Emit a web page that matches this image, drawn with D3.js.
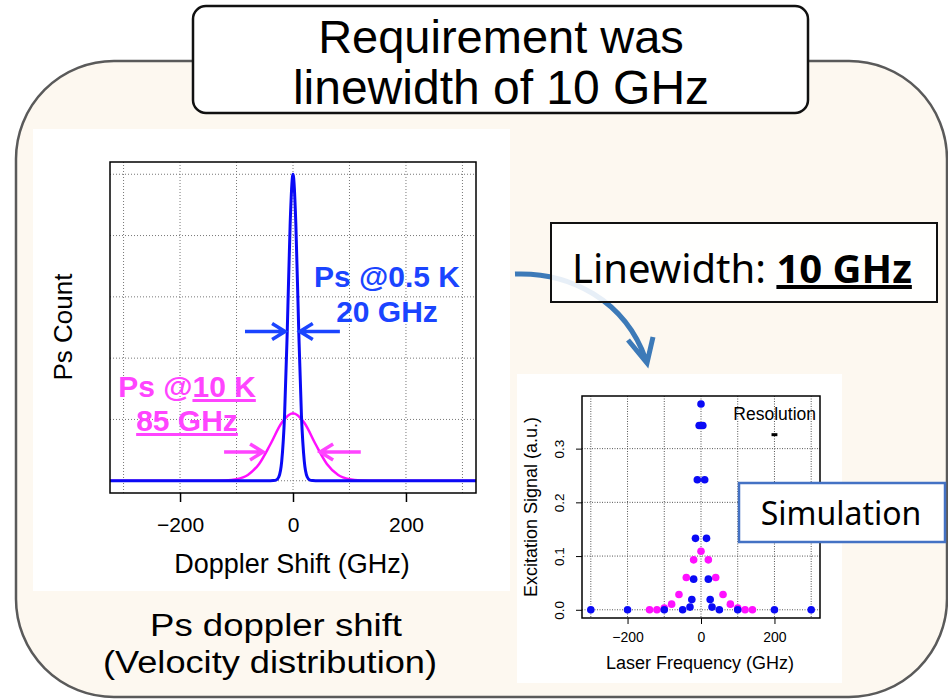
<!DOCTYPE html>
<html lang="en">

<head>
    <script src='https://d3js.org/d3.v7.min.js'></script>
    <style>
        body { margin: 0; background: #fff; }
        text { font-family: "Liberation Sans", Arial, sans-serif; }
        .slide { font-family: "Noto Sans", "Liberation Sans", sans-serif; }
    </style>
</head>

<body>

    <script>

        // ---- left chart: Ps doppler shift curves ----
        const dopplerLim = [-324, 324];
        const countLim = [-0.04, 1.04];
        const gridX = [-300, -200, -100, 0, 100, 200, 300];
        const gridCount = [0, 0.2, 0.4, 0.6, 0.8, 1.0];
        const dopplerTicks = [-200, 0, 200];

        const coldX = [-324, -40, -35, -30, -25, -20, -15, -10, -5, 0, 5, 10, 15, 20, 25, 30, 35, 40, 324];
        const coldY = [0, 0, 0.0005, 0.002, 0.013, 0.063, 0.21, 0.50, 0.84, 1.0, 0.84, 0.50, 0.21, 0.063, 0.013, 0.002, 0.0005, 0, 0];

        const warmX = [-324, -150, -120, -100, -80, -60, -40, -20, 0, 20, 40, 60, 80, 100, 120, 150, 324];
        const warmY = [0, 0, 0.001, 0.005, 0.019, 0.055, 0.119, 0.189, 0.22, 0.189, 0.119, 0.055, 0.019, 0.005, 0.001, 0, 0];

        // FWHM arrows (GHz, count)
        const coldArrows = [[-85, -14], [83, 12]];
        const coldArrowY = 0.487;
        const warmArrows = [[-122, -53], [120, 48]];
        const warmArrowY = 0.094;

        // ---- right chart: simulated excitation signal ----
        const freqLim = [-324, 324];
        const signalLim = [-0.0153, 0.398];
        const signalTicks = [0, 0.1, 0.2, 0.3];

        const simColdX = [-300, -200, -100, -50, -30, -25, -20, -15, -10, -5, 0, 5, 10, 15, 20, 25, 30, 50, 100, 200, 300];
        const simColdY = [0, 0, 0, 0, 0.005, 0.019, 0.057, 0.133, 0.242, 0.343, 0.383, 0.343, 0.242, 0.133, 0.057, 0.019, 0.005, 0, 0, 0, 0];

        const simWarmX = [-140, -120, -100, -80, -60, -40, -20, 0, 20, 40, 60, 80, 100, 120, 140];
        const simWarmY = [0, 0, 0.003, 0.0105, 0.0285, 0.06, 0.093, 0.109, 0.093, 0.06, 0.0285, 0.0105, 0.003, 0, 0];

        const resolutionX = [192, 208];
        const resolutionY = 0.326;

        const BLUE = "#0a0af5";
        const BLUE_TEXT = "#1a44ff";
        const PINK = "#ff10ff";
        const PINK_TEXT = "#ff44ff";
        const fmt = d => d < 0 ? "\u2212" + Math.abs(d) : d;

        const svg = d3.select("body").append("svg")
            .attr("width", 948)
            .attr("height", 699);

        // big cream panel
        svg.append("rect")
            .attr("x", 16).attr("y", 61)
            .attr("width", 931).attr("height", 636)
            .attr("rx", 98).attr("ry", 98)
            .attr("fill", "#fdf8f0")
            .attr("stroke", "#5a5a5a")
            .attr("stroke-width", 2.5);

        // title box
        svg.append("rect")
            .attr("x", 193).attr("y", 6)
            .attr("width", 615).attr("height", 107)
            .attr("rx", 13)
            .attr("fill", "#fff")
            .attr("stroke", "#111")
            .attr("stroke-width", 2.5);
        svg.append("text").attr("x", 501).attr("y", 53)
            .attr("text-anchor", "middle").style("font-size", "47px")
            .text("Requirement was");
        svg.append("text").attr("x", 501).attr("y", 104)
            .attr("text-anchor", "middle").style("font-size", "48px")
            .text("linewidth of 10 GHz");

        // left panel
        svg.append("rect").attr("x", 33).attr("y", 129)
            .attr("width", 477).attr("height", 462).attr("fill", "#fff");

        const x1 = d3.scaleLinear().domain(dopplerLim).range([110, 476]);
        const y1 = d3.scaleLinear().domain(countLim).range([493, 162]);

        const left = svg.append("g");

        left.selectAll(".vgrid").data(gridX).enter().append("line")
            .attr("x1", d => x1(d)).attr("x2", d => x1(d))
            .attr("y1", 162).attr("y2", 493)
            .attr("stroke", "#777").attr("stroke-dasharray", "1,2");
        left.selectAll(".hgrid").data(gridCount).enter().append("line")
            .attr("x1", 110).attr("x2", 476)
            .attr("y1", d => y1(d)).attr("y2", d => y1(d))
            .attr("stroke", "#777").attr("stroke-dasharray", "1,2");

        const line1 = d3.line()
            .x(d => x1(d[0])).y(d => y1(d[1]))
            .curve(d3.curveMonotoneX);

        left.append("path")
            .datum(d3.zip(warmX, warmY))
            .attr("d", line1)
            .attr("fill", "none").attr("stroke", PINK).attr("stroke-width", 2.5);
        left.append("path")
            .datum(d3.zip(coldX, coldY))
            .attr("d", line1)
            .attr("fill", "none").attr("stroke", BLUE).attr("stroke-width", 3);

        left.append("rect").attr("x", 110).attr("y", 162)
            .attr("width", 366).attr("height", 331)
            .attr("fill", "none").attr("stroke", "#000").attr("stroke-width", 1.5);

        const xAxis1 = left.append("g")
            .attr("transform", "translate(0,493)")
            .call(d3.axisBottom(x1).tickValues(dopplerTicks).tickSize(9).tickPadding(15).tickFormat(fmt));
        xAxis1.select(".domain").remove();
        xAxis1.selectAll("line").attr("stroke-width", 1.5);
        xAxis1.selectAll("text").style("font-size", "21px").attr("fill", "#000");

        left.append("text").attr("x", 292).attr("y", 573)
            .attr("text-anchor", "middle").style("font-size", "27px")
            .text("Doppler Shift (GHz)");
        left.append("text")
            .attr("transform", "translate(63,327) rotate(-90)")
            .attr("dy", "0.35em")
            .attr("text-anchor", "middle").style("font-size", "26px")
            .text("Ps Count");

        function arrow(g, xa, xb, y, color, w) {
            const dir = xb > xa ? 1 : -1;
            g.append("path")
                .attr("d", `M${xa},${y}L${xb},${y}M${xb - dir * 13},${y - 8}L${xb},${y}L${xb - dir * 13},${y + 8}`)
                .attr("fill", "none").attr("stroke", color)
                .attr("stroke-width", w).attr("stroke-linejoin", "miter");
        }
        coldArrows.forEach(a => arrow(left, x1(a[0]), x1(a[1]), y1(coldArrowY), BLUE_TEXT, 3.5));
        warmArrows.forEach(a => arrow(left, x1(a[0]), x1(a[1]), y1(warmArrowY), PINK_TEXT, 3.5));

        left.append("text").attr("x", 387).attr("y", 287)
            .attr("text-anchor", "middle").attr("fill", BLUE_TEXT)
            .style("font-size", "30px").style("font-weight", "bold")
            .text("Ps @0.5 K");
        left.append("text").attr("x", 387).attr("y", 322)
            .attr("text-anchor", "middle").attr("fill", BLUE_TEXT)
            .style("font-size", "30px").style("font-weight", "bold")
            .text("20 GHz");

        const pinkLabel = left.append("text").attr("x", 187).attr("y", 397)
            .attr("text-anchor", "middle").attr("fill", PINK_TEXT)
            .style("font-size", "30px").style("font-weight", "bold");
        pinkLabel.append("tspan").text("Ps @");
        pinkLabel.append("tspan").style("text-decoration", "underline").text("10 K");
        left.append("text").attr("x", 187).attr("y", 431)
            .attr("text-anchor", "middle").attr("fill", PINK_TEXT)
            .style("font-size", "30px").style("font-weight", "bold")
            .style("text-decoration", "underline")
            .text("85 GHz");

        // caption under the left chart
        svg.append("text").attr("x", 276).attr("y", 636)
            .attr("text-anchor", "middle").style("font-size", "31px")
            .attr("textLength", 252).attr("lengthAdjust", "spacingAndGlyphs")
            .text("Ps doppler shift");
        svg.append("text").attr("x", 270).attr("y", 673)
            .attr("text-anchor", "middle").style("font-size", "31px")
            .attr("textLength", 334).attr("lengthAdjust", "spacingAndGlyphs")
            .text("(Velocity distribution)");

        // curved arrow + linewidth box
        svg.append("path")
            .attr("d", "M515,274C570,272 625,300 646,360M628,340L647,363L653,337")
            .attr("fill", "none").attr("stroke", "#3d7ab8")
            .attr("stroke-width", 5).attr("stroke-linejoin", "miter");

        svg.append("rect").attr("x", 551).attr("y", 223)
            .attr("width", 386).attr("height", 79)
            .attr("fill", "#fff").attr("fill-opacity", 0.88)
            .attr("stroke", "#111").attr("stroke-width", 2);
        const lw = svg.append("text").attr("class", "slide").attr("x", 572).attr("y", 283)
            .style("font-size", "40px");
        lw.append("tspan").text("Linewidth: ");
        lw.append("tspan").style("font-weight", "bold")
            .style("text-decoration", "underline").text("10 GHz");

        // right panel
        svg.append("rect").attr("x", 517).attr("y", 374)
            .attr("width", 325).attr("height", 309).attr("fill", "#fff");

        const x2 = d3.scaleLinear().domain(freqLim).range([582, 820]);
        const y2 = d3.scaleLinear().domain(signalLim).range([618, 396]);
        const right = svg.append("g");

        right.selectAll(".vgrid").data(gridX).enter().append("line")
            .attr("x1", d => x2(d)).attr("x2", d => x2(d))
            .attr("y1", 396).attr("y2", 618)
            .attr("stroke", "#555").attr("stroke-dasharray", "1,1.5");
        right.selectAll(".hgrid").data(signalTicks).enter().append("line")
            .attr("x1", 582).attr("x2", 820)
            .attr("y1", d => y2(d)).attr("y2", d => y2(d))
            .attr("stroke", "#555").attr("stroke-dasharray", "1,1.5");

        right.selectAll(".warm").data(d3.zip(simWarmX, simWarmY)).enter().append("circle")
            .attr("cx", d => x2(d[0])).attr("cy", d => y2(d[1]))
            .attr("r", 3.8).attr("fill", PINK);
        right.selectAll(".cold").data(d3.zip(simColdX, simColdY)).enter().append("circle")
            .attr("cx", d => x2(d[0])).attr("cy", d => y2(d[1]))
            .attr("r", 3.8).attr("fill", BLUE);

        right.append("line")
            .attr("x1", x2(resolutionX[0])).attr("x2", x2(resolutionX[1]))
            .attr("y1", y2(resolutionY)).attr("y2", y2(resolutionY))
            .attr("stroke", "#000").attr("stroke-width", 3);
        right.append("text").attr("x", 816).attr("y", 420)
            .attr("text-anchor", "end").style("font-size", "17.5px")
            .text("Resolution");

        right.append("rect").attr("x", 582).attr("y", 396)
            .attr("width", 238).attr("height", 222)
            .attr("fill", "none").attr("stroke", "#000").attr("stroke-width", 1.5);

        const xAxis2 = right.append("g")
            .attr("transform", "translate(0,618)")
            .call(d3.axisBottom(x2).tickValues(dopplerTicks).tickSize(6).tickPadding(8).tickFormat(fmt));
        xAxis2.select(".domain").remove();
        xAxis2.selectAll("text").style("font-size", "14px").attr("fill", "#000");

        const yAxis2 = right.append("g")
            .attr("transform", "translate(582,0)")
            .call(d3.axisLeft(y2).tickValues(signalTicks).tickSize(6).tickFormat(d3.format(".1f")));
        yAxis2.select(".domain").remove();
        yAxis2.selectAll("text")
            .attr("x", null).attr("dy", "0.35em")
            .attr("text-anchor", "middle")
            .attr("transform", "translate(-23,0) rotate(-90)")
            .style("font-size", "13.5px").attr("fill", "#000");

        right.append("text").attr("x", 700).attr("y", 669)
            .attr("text-anchor", "middle").style("font-size", "18px")
            .text("Laser Frequency (GHz)");
        right.append("text")
            .attr("transform", "translate(531,507) rotate(-90)")
            .attr("dy", "0.35em")
            .attr("text-anchor", "middle").style("font-size", "18px")
            .text("Excitation Signal (a.u.)");

        // simulation tag
        svg.append("rect").attr("x", 739).attr("y", 483)
            .attr("width", 206).attr("height", 59)
            .attr("fill", "#fff").attr("stroke", "#4472c4").attr("stroke-width", 2.5);
        svg.append("text").attr("class", "slide").attr("x", 841).attr("y", 525)
            .attr("text-anchor", "middle").style("font-size", "32px")
            .text("Simulation");

    </script>

</body>

</html>
